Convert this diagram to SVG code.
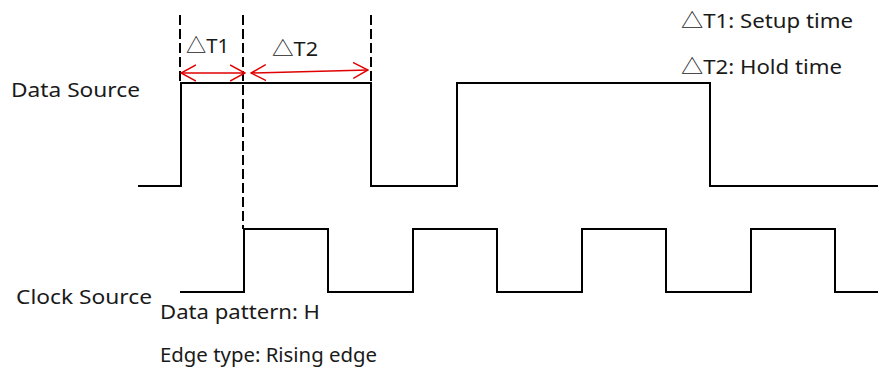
<svg xmlns="http://www.w3.org/2000/svg" width="891" height="369" viewBox="0 0 891 369">
<defs>
<style>
.t{font-family:"Noto Sans","Noto Sans CJK SC",sans-serif;font-size:20px;fill:#1a1a1a}
.w{fill:none;stroke:#000;stroke-width:2}
.d{fill:none;stroke:#000;stroke-width:2;stroke-dasharray:10,4}
.a{fill:none;stroke:#e00000;stroke-width:1.5}
</style>
<marker id="ah" viewBox="0 0 16 18" refX="15" refY="9" markerWidth="16" markerHeight="18" markerUnits="userSpaceOnUse" orient="auto-start-reverse">
<path d="M0,1 L15,9 L0,17" fill="none" stroke="#e00000" stroke-width="1.5"/>
</marker>
</defs>
<rect width="891" height="369" fill="#fff"/>
<g id="data-source">
<path class="w" d="M138,186 H181 V83 H371 V186 H457 V83 H710 V186 H878"/>
<text class="t" x="11" y="97" textLength="129" lengthAdjust="spacingAndGlyphs">Data Source</text>
</g>
<g id="clock-source">
<path class="w" d="M180,292 H244 V229 H328 V292 H413 V229 H497 V292 H582 V229 H666 V292 H751 V229 H835 V292 H878"/>
<text class="t" x="16" y="304" textLength="136" lengthAdjust="spacingAndGlyphs">Clock Source</text>
</g>
<g id="connectors">
<line class="d" x1="180" y1="15" x2="180" y2="83"/>
<line class="d" x1="243" y1="15" x2="243" y2="229"/>
<line class="d" x1="371" y1="15" x2="371" y2="83"/>
<line class="a" x1="181" y1="73" x2="245" y2="73" marker-start="url(#ah)" marker-end="url(#ah)"/>
<line class="a" x1="251" y1="73" x2="368" y2="70" marker-start="url(#ah)" marker-end="url(#ah)"/>
</g>
<g id="labels">
<text class="t" x="186" y="53" textLength="43" lengthAdjust="spacingAndGlyphs">△T1</text>
<text class="t" x="272" y="56" textLength="46" lengthAdjust="spacingAndGlyphs">△T2</text>
<text class="t" x="681" y="28" textLength="172" lengthAdjust="spacingAndGlyphs">△T1: Setup time</text>
<text class="t" x="681" y="74" textLength="161" lengthAdjust="spacingAndGlyphs">△T2: Hold time</text>
<text class="t" x="160" y="319" textLength="160" lengthAdjust="spacingAndGlyphs">Data pattern: H</text>
<text class="t" x="160" y="362" textLength="217" lengthAdjust="spacingAndGlyphs">Edge type: Rising edge</text>
</g>
</svg>
